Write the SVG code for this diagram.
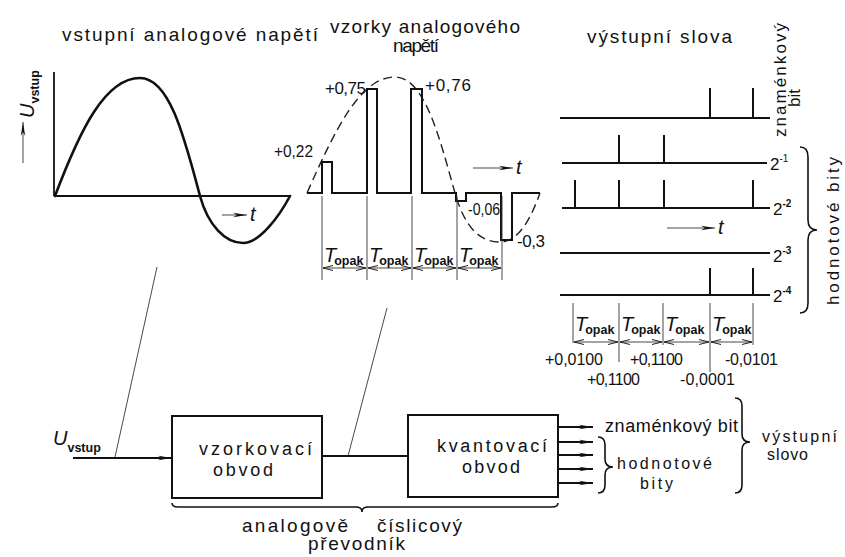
<svg xmlns="http://www.w3.org/2000/svg" width="845" height="557" viewBox="0 0 845 557">
<style>
text{font-family:"Liberation Sans","DejaVu Sans",sans-serif;fill:#111}
.t{font-size:19px}
.n{font-size:17px}
.v{font-size:16px}
.b{font-size:18px}
.c{font-size:16px}
.T{font-size:20px;font-style:italic}
.s{font-size:12.5px;font-weight:bold;font-style:normal}
.thick{fill:none;stroke:#111;stroke-width:2.6;stroke-linecap:round;stroke-linejoin:round}
.ln{fill:none;stroke:#111;stroke-width:1.8}
.pl{fill:none;stroke:#111;stroke-width:2}
.thin{fill:none;stroke:#333;stroke-width:0.9}
.dash{fill:none;stroke:#222;stroke-width:1.4;stroke-dasharray:9 5}
.box{fill:#fff;stroke:#111;stroke-width:2}
.br{fill:none;stroke:#111;stroke-width:1.6}
</style>
<defs>
<marker id="ah" viewBox="0 0 14 6" refX="14" refY="3" markerWidth="14" markerHeight="6" markerUnits="userSpaceOnUse" orient="auto"><path d="M0,0.8 L14,3 L0,5.2 L4,3 Z" fill="#111"/></marker>
<marker id="ch" viewBox="0 0 10 6" refX="10" refY="3" markerWidth="10" markerHeight="6" markerUnits="userSpaceOnUse" orient="auto-start-reverse"><path d="M0,0.5 L10,3 L0,5.5" fill="none" stroke="#222" stroke-width="1"/></marker>
</defs>

<g id="input-graph">
<text x="62" y="41" class="t" textLength="256" lengthAdjust="spacing">vstupní analogové napětí</text>
<line class="ln" x1="54" y1="72" x2="54" y2="196"/>
<line class="ln" x1="54" y1="196" x2="290" y2="196"/>
<path class="thick" d="M55,196 C80,130 105,78 140,78 C170,78 185,140 200,196 C208,225 225,243 243,243 C260,243 280,215 290,196"/>
<line class="thin" x1="222" y1="215" x2="247" y2="215" marker-end="url(#ah)"/>
<text x="250" y="221" class="T">t</text>
<line class="thin" x1="23" y1="163" x2="23" y2="122" marker-end="url(#ah)"/>
<text transform="translate(34,118) rotate(-90)" class="T">U<tspan class="s" dy="5" font-size="11px">vstup</tspan></text>
</g>

<g id="samples-graph">
<text x="330" y="33" class="t" textLength="190" lengthAdjust="spacing">vzorky analogového</text>
<text x="393" y="52" class="t" textLength="46" lengthAdjust="spacing">napětí</text>
<path class="dash" d="M307,193 C335,130 360,77 395,77 C425,77 440,140 455,193 C465,228 480,242 500,242 C520,242 532,215 540,193"/>
<path class="pl" d="M307,193 H322 V162 H332 V193 H367 V89 H377 V193 H411 V89 H422 V193 H456 V201 H466 V193 H501 V240 H512 V193 H540"/>
<text x="274" y="157" class="n" textLength="39" lengthAdjust="spacingAndGlyphs">+0,22</text>
<text x="325" y="94" class="n" textLength="41" lengthAdjust="spacing">+0,75</text>
<text x="425" y="91" class="n" textLength="46" lengthAdjust="spacing">+0,76</text>
<text x="468" y="215" class="v" textLength="32" lengthAdjust="spacingAndGlyphs">-0,06</text>
<text x="517" y="247" class="n" textLength="28" lengthAdjust="spacing">-0,3</text>
<line class="thin" x1="473" y1="168" x2="513" y2="168" marker-end="url(#ah)"/>
<text x="516" y="174" class="T">t</text>
<g class="thin">
<line x1="322" y1="196" x2="322" y2="280"/>
<line x1="367" y1="196" x2="367" y2="280"/>
<line x1="412" y1="196" x2="412" y2="280"/>
<line x1="457" y1="196" x2="457" y2="280"/>
<line x1="502" y1="196" x2="502" y2="280"/>
<line x1="323" y1="268" x2="366" y2="268" marker-start="url(#ch)" marker-end="url(#ch)"/>
<line x1="368" y1="268" x2="411" y2="268" marker-start="url(#ch)" marker-end="url(#ch)"/>
<line x1="413" y1="268" x2="456" y2="268" marker-start="url(#ch)" marker-end="url(#ch)"/>
<line x1="458" y1="268" x2="501" y2="268" marker-start="url(#ch)" marker-end="url(#ch)"/>
</g>
<text x="324" y="262" class="T">T<tspan class="s" dy="3" dx="-2">opak</tspan></text>
<text x="369" y="262" class="T">T<tspan class="s" dy="3" dx="-2">opak</tspan></text>
<text x="414" y="262" class="T">T<tspan class="s" dy="3" dx="-2">opak</tspan></text>
<text x="459" y="262" class="T">T<tspan class="s" dy="3" dx="-2">opak</tspan></text>
</g>

<g id="output-words">
<text x="587" y="43" class="t" textLength="145" lengthAdjust="spacing">výstupní slova</text>
<g class="pl">
<path d="M560,118 H770 M710,118 V88 M753,118 V88"/>
<path d="M562,163 H767 M619,163 V135 M664,163 V135"/>
<path d="M562,208 H770 M575,208 V180 M619,208 V180 M664,208 V180 M753,208 V180"/>
<path d="M560,253 H770"/>
<path d="M560,295 H770 M710,295 V268 M753,295 V268"/>
</g>
<text x="770" y="170" class="n">2<tspan font-size="10px" dy="-8">-1</tspan></text>
<text x="773" y="215" class="n">2<tspan font-size="10px" dy="-8" font-weight="bold">-2</tspan></text>
<text x="773" y="262" class="n">2<tspan font-size="10px" dy="-8" font-weight="bold">-3</tspan></text>
<text x="773" y="302" class="n">2<tspan font-size="10px" dy="-8" font-weight="bold">-4</tspan></text>
<line class="thin" x1="667" y1="228" x2="715" y2="228" marker-end="url(#ah)"/>
<text x="718" y="234" class="T">t</text>
<text transform="translate(786,137) rotate(-90)" class="n" textLength="114" lengthAdjust="spacing">znaménkový</text>
<text transform="translate(800,107) rotate(-90)" class="n">bit</text>
<path class="br" d="M800,147 Q808,147 808,157 V220 Q808,230 817,230 Q808,230 808,240 V303 Q808,313 800,313"/>
<text transform="translate(839,305) rotate(-90)" class="n" textLength="148" lengthAdjust="spacing">hodnotové bity</text>
<g class="thin">
<line x1="573" y1="303" x2="573" y2="343"/>
<line x1="619" y1="303" x2="619" y2="362"/>
<line x1="663" y1="303" x2="663" y2="345"/>
<line x1="710" y1="303" x2="710" y2="372"/>
<line x1="753" y1="303" x2="753" y2="345"/>
<line x1="574" y1="342" x2="618" y2="342" marker-start="url(#ch)" marker-end="url(#ch)"/>
<line x1="620" y1="342" x2="662" y2="342" marker-start="url(#ch)" marker-end="url(#ch)"/>
<line x1="664" y1="342" x2="709" y2="342" marker-start="url(#ch)" marker-end="url(#ch)"/>
<line x1="711" y1="342" x2="752" y2="342" marker-start="url(#ch)" marker-end="url(#ch)"/>
</g>
<text x="575" y="331" class="T">T<tspan class="s" dy="3" dx="-2">opak</tspan></text>
<text x="621" y="331" class="T">T<tspan class="s" dy="3" dx="-2">opak</tspan></text>
<text x="665" y="331" class="T">T<tspan class="s" dy="3" dx="-2">opak</tspan></text>
<text x="712" y="331" class="T">T<tspan class="s" dy="3" dx="-2">opak</tspan></text>
<text x="545" y="365" class="v" textLength="58" lengthAdjust="spacing">+0,0100</text>
<text x="630" y="365" class="v" textLength="53" lengthAdjust="spacing">+0,1100</text>
<text x="725" y="365" class="v" textLength="53" lengthAdjust="spacing">-0,0101</text>
<text x="587" y="385" class="v" textLength="53" lengthAdjust="spacing">+0,1100</text>
<text x="680" y="385" class="v" textLength="55" lengthAdjust="spacing">-0,0001</text>
</g>

<g id="input-label">
<text x="53" y="445" class="T">U<tspan class="s" dy="7" font-size="11px">vstup</tspan></text>
</g>

<g id="sampling-block">
<rect class="box" x="172" y="416" width="150" height="82"/>
<text x="199" y="455" class="b" textLength="113" lengthAdjust="spacing">vzorkovací</text>
<text x="213" y="476" class="b" textLength="60" lengthAdjust="spacing">obvod</text>
</g>

<g id="quantizing-block">
<rect class="box" x="408" y="415" width="150" height="82"/>
<text x="437" y="452" class="b" textLength="110" lengthAdjust="spacing">kvantovací</text>
<text x="462" y="473" class="b" textLength="58" lengthAdjust="spacing">obvod</text>
</g>

<g id="output-labels">
<text x="605" y="432" class="b" textLength="133" lengthAdjust="spacing">znaménkový bit</text>
<path class="br" d="M598,437 Q605,437 605,445 V459 Q605,467 613,467 Q605,467 605,475 V485 Q605,493 598,493"/>
<text x="617" y="469" class="c" textLength="95" lengthAdjust="spacing">hodnotové</text>
<text x="640" y="489" class="c" textLength="33" lengthAdjust="spacing">bity</text>
<path class="br" d="M735,398 Q742,398 742,406 V434 Q742,442 750,442 Q742,442 742,450 V485 Q742,493 735,493"/>
<text x="762" y="442" class="c" textLength="75" lengthAdjust="spacing">výstupní</text>
<text x="767" y="460" class="c" textLength="41" lengthAdjust="spacing">slovo</text>
</g>

<g id="converter-label">
<path class="br" d="M172,503 Q172,507 178,507 H356 Q362,507 362,512 Q362,507 368,507 H552 Q558,507 558,503"/>
<text x="242" y="532" class="t" textLength="106" lengthAdjust="spacing">analogově</text>
<text x="377" y="532" class="t" textLength="85" lengthAdjust="spacing">číslicový</text>
<text x="308" y="550" class="t" textLength="97" lengthAdjust="spacing">převodník</text>
</g>

<g id="connectors">
<line class="thin" x1="157" y1="267" x2="115" y2="457"/>
<line class="thin" x1="387" y1="308" x2="348" y2="456"/>
<line class="ln" x1="73" y1="458" x2="172" y2="458" marker-end="url(#ah)"/>
<line class="ln" x1="322" y1="456" x2="408" y2="456"/>
<g class="ln">
<line x1="558" y1="427" x2="593" y2="427" marker-end="url(#ah)"/>
<line x1="558" y1="442" x2="593" y2="442" marker-end="url(#ah)"/>
<line x1="558" y1="455" x2="593" y2="455" marker-end="url(#ah)"/>
<line x1="558" y1="469" x2="593" y2="469" marker-end="url(#ah)"/>
<line x1="558" y1="483" x2="593" y2="483" marker-end="url(#ah)"/>
</g>
</g>
</svg>
